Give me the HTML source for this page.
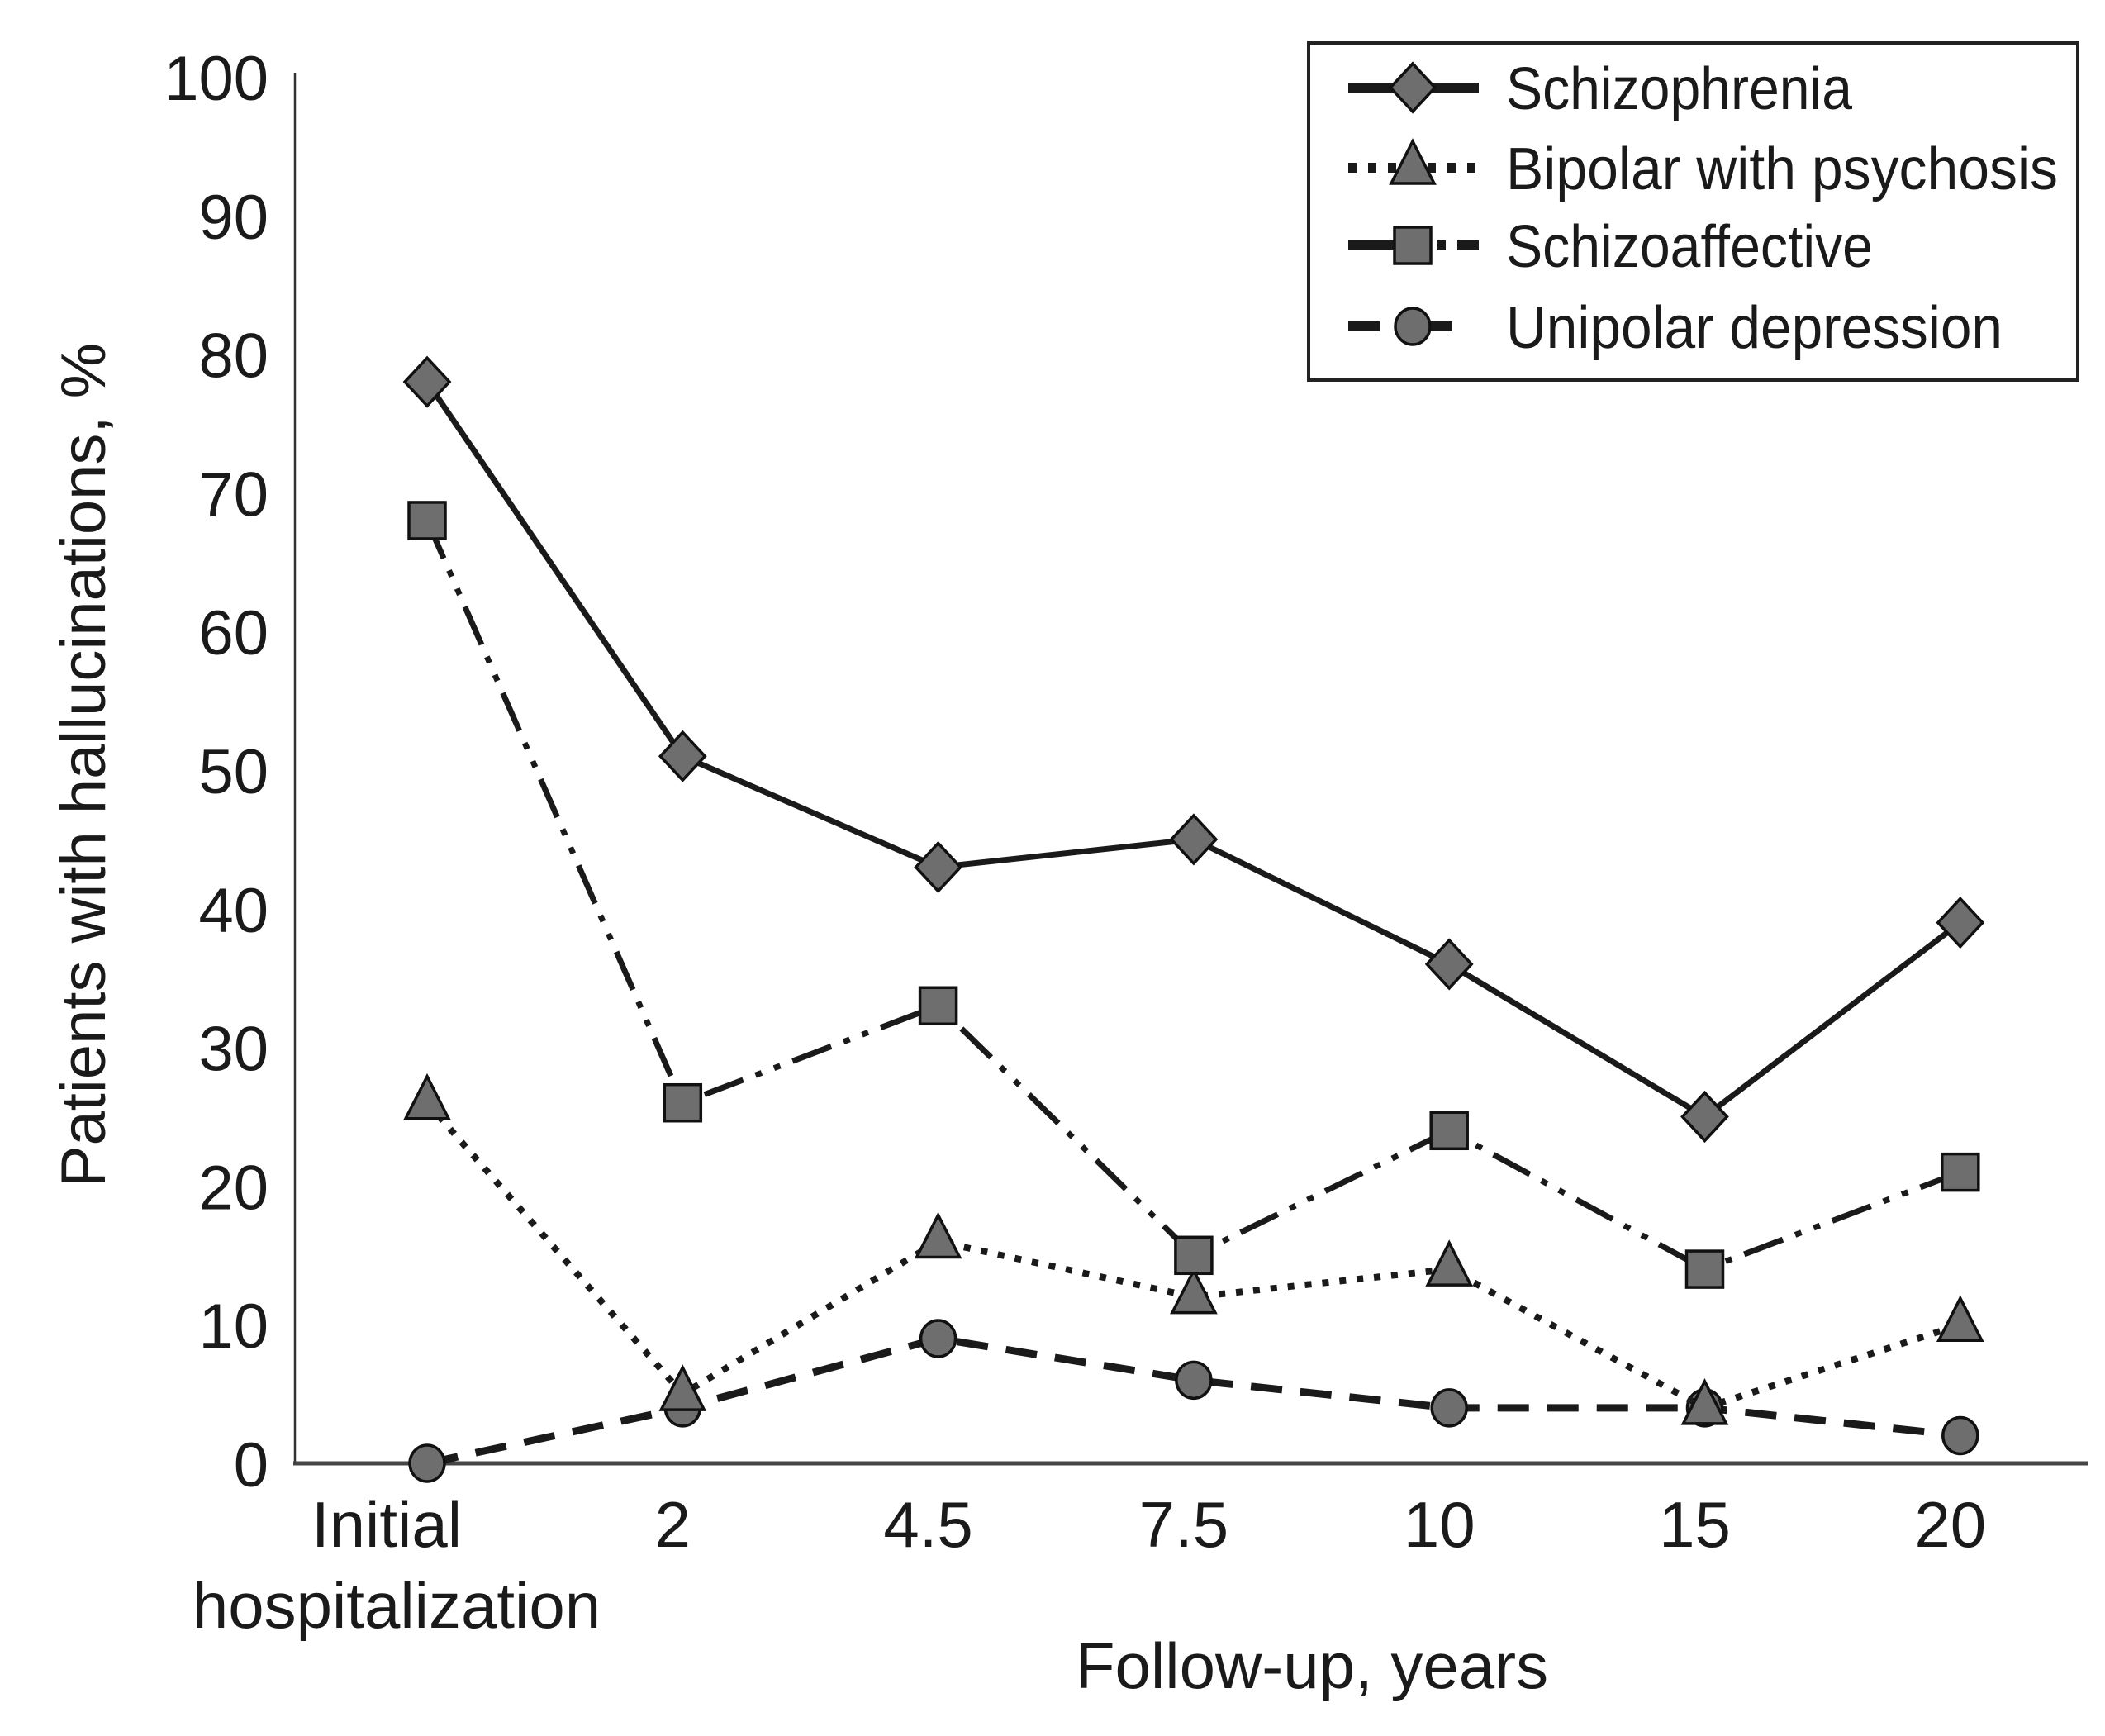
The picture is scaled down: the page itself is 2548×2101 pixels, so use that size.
<!DOCTYPE html>
<html><head><meta charset="utf-8"><style>
html,body{margin:0;padding:0;background:#fff;}
svg{display:block;}
text{font-family:"Liberation Sans Narrow","Liberation Sans",sans-serif;fill:#1a1a1a;}
</style></head><body>
<svg id="chart" width="2548" height="2101" viewBox="0 0 2548 2101" xmlns="http://www.w3.org/2000/svg">
<g id="axes"></g>
<g id="series"></g>
<g id="legend"></g>
</svg>
<script>
const categories = ["Initial", "2", "4.5", "7.5", "10", "15", "20"];
const yTicks = [0, 10, 20, 30, 40, 50, 60, 70, 80, 90, 100];
const schizophrenia = [78, 51, 43, 45, 36, 25, 39];
const bipolar = [26, 5, 16, 12, 14, 4, 10];
const schizoaffective = [68, 26, 33, 15, 24, 14, 21];
const unipolar = [0, 4, 9, 6, 4, 4, 2];
const seriesNames = ["Schizophrenia", "Bipolar with psychosis", "Schizoaffective", "Unipolar depression"];
const legendWidths = [419, 668, 444, 601];

const NS = "http://www.w3.org/2000/svg";
const X0 = 517, XSTEP = 309.3, Y0 = 1771, YTOP = 93;
function xPos(i){ return X0 + i * XSTEP; }
function yPos(v){ return Y0 - (v / 100) * (Y0 - YTOP); }
function mk(tag, attrs, parent){
  const e = document.createElementNS(NS, tag);
  for (const k in attrs) e.setAttribute(k, attrs[k]);
  parent.appendChild(e);
  return e;
}
const axes = document.getElementById('axes');
const series = document.getElementById('series');
const legend = document.getElementById('legend');

let ya = mk('line', {x1:357, y1:YTOP-5, x2:357, y2:Y0, stroke:'#333', 'stroke-width':2.5}, axes);


let xa = mk('line', {x1:355, y1:Y0, x2:2527, y2:Y0, stroke:'#444', 'stroke-width':5}, axes);



yTicks.forEach(t => {
  const tx = mk('text', {x:325, y:yPos(t)+28, 'text-anchor':'end', 'font-size':76}, axes);
  tx.textContent = t;
  
  
});
categories.forEach((c, i) => {
  const tx = mk('text', {x: i === 0 ? 468 : xPos(i) - 12, y:1872, 'text-anchor':'middle', 'font-size':78}, axes);
  tx.textContent = c;
  
  
});
let hosp = mk('text', {x:480, y:1970, 'text-anchor':'middle', 'font-size':78}, axes);
hosp.textContent = 'hospitalization';


let xt = mk('text', {x:1588, y:2043, 'text-anchor':'middle', 'font-size':78}, axes);
xt.textContent = 'Follow-up, years';


let yt = mk('text', {x:0, y:0, 'text-anchor':'middle', 'font-size':76, transform:'translate(127,926) rotate(-90)'}, axes);
yt.textContent = 'Patients with hallucinations, %';



function marker(type, cx, cy, parent){
  let m;
  if (type === 'diamond') m = mk('polygon', {points:`${cx},${cy-29} ${cx+27},${cy} ${cx},${cy+29} ${cx-27},${cy}`}, parent);
  else if (type === 'triangle') m = mk('polygon', {points:`${cx},${cy-32} ${cx+26},${cy+19} ${cx-26},${cy+19}`}, parent);
  else if (type === 'square') m = mk('rect', {x:cx-22, y:cy-22, width:44, height:44}, parent);
  else m = mk('ellipse', {cx:cx, cy:cy, rx:21, ry:22}, parent);
  m.setAttribute('fill', '#6e6e6e');
  m.setAttribute('stroke', '#111');
  m.setAttribute('stroke-width', 3.5);
  return m;
}
const styles = [
  {data: schizophrenia, dash:'none', w:7, m:'diamond', key:'schizophrenia'},
  {data: bipolar, dash:'8 13', w:8, m:'triangle', key:'bipolar'},
  {data: schizoaffective, dash:'50 16 8 16 8 16', w:7, m:'square', key:'schizoaffective'},
  {data: unipolar, dash:'38 22', w:9, m:'circle', key:'unipolar'}
];
[3,1,2,0].forEach(si => {
  const s = styles[si];
  const g = mk('g', {}, series);
  
  
  const pts = s.data.map((v, i) => xPos(i) + ',' + yPos(v)).join(' ');
  const pl = mk('polyline', {points:pts, fill:'none', stroke:'#1a1a1a', 'stroke-width':s.w, 'stroke-dasharray':s.dash}, g);
  
  
  s.data.forEach((v, i) => {
    const mm = marker(s.m, xPos(i), yPos(v), g);
    
    
  });
});

const box = mk('rect', {x:1584, y:52, width:931, height:408, fill:'#fff', stroke:'#222', 'stroke-width':4}, legend);


const rowY = [106, 203, 297, 395];
const legendDash = ['none', '10 14', 'none', '38 50'];
styles.forEach((s, i) => {
  const g = mk('g', {}, legend);
  
  
  if (s.key === 'schizoaffective') {
    const l1 = mk('line', {x1:1632, y1:rowY[i], x2:1700, y2:rowY[i], stroke:'#1a1a1a', 'stroke-width':12}, g);
    
    
    const l2 = mk('line', {x1:1740, y1:rowY[i], x2:1790, y2:rowY[i], stroke:'#1a1a1a', 'stroke-width':12, 'stroke-dasharray':'10 14 26 10'}, g);
    
    
  } else {
    const ln = mk('line', {x1:1632, y1:rowY[i], x2:1790, y2:rowY[i], stroke:'#1a1a1a', 'stroke-width':12, 'stroke-dasharray':legendDash[i]}, g);
    
    
  }
  const mm = marker(s.m, 1710, rowY[i], g);
  
  
  const tx = mk('text', {x:1823, y:rowY[i]+26, 'font-size':72, textLength:legendWidths[i], lengthAdjust:'spacingAndGlyphs'}, g);
  tx.textContent = seriesNames[i];
  
  
});
</script>
</body></html>
